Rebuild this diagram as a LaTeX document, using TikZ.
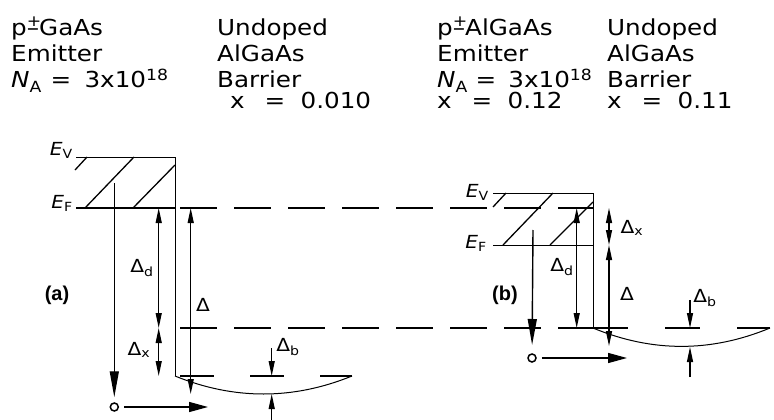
\documentclass[tikz,border=0pt]{standalone}
\usepackage{fontspec}
\setmainfont{DejaVu Sans}[FakeStretch=1.12]
\newfontfamily\tagfont{Liberation Sans}
\usetikzlibrary{arrows.meta}

\tikzset{
  edge/.style={line width=1pt},
  fermi/.style={line width=1.8pt},
  reflevel/.style={line width=1.6pt, dash pattern=on 37pt off 17pt},
  welllevel/.style={line width=1.6pt, dash pattern=on 35pt off 37pt},
  hatch/.style={line width=1.3pt},
  gap/.style={line width=1.2pt, {Triangle[length=15pt,width=6pt]}-{Triangle[length=15pt,width=6pt]}},
  tick/.style={line width=1.2pt, -{Triangle[length=15pt,width=6pt]}},
  drop/.style={line width=1.4pt, -{Triangle[length=26pt,width=9pt]}},
  drift/.style={line width=1.4pt, -{Triangle[length=19pt,width=10pt]}},
  hole/.style={draw, circle, line width=1.5pt, minimum size=8pt, inner sep=0pt},
  header/.style={anchor=base west, inner sep=0pt, font=\fontsize{22}{26}\selectfont},
  lab/.style={inner sep=0pt, font=\fontsize{18}{21}\selectfont},
  level/.style={anchor=base east, inner sep=0pt, font=\fontsize{18}{21}\selectfont},
  tag/.style={inner sep=0pt, font=\tagfont\bfseries\fontsize{20}{22}\selectfont},
}

\begin{document}
\begin{tikzpicture}[x=1pt,y=-1pt]
\useasboundingbox (0,0) rectangle (774,420);

% layer headings
\node[header] (aMat)  at (11,36)  {p\rlap{\raisebox{2pt}{\textsuperscript{+}}}–GaAs};
\node[header] (aEmit) at (11,62)  {Emitter};
\node[header] (aDop)  at (11,88)  {\textit{N}\textsubscript{A}\hspace{0.4em}=\hspace{0.6em}3x10\textsuperscript{18}};
\node[header] (aUnd)  at (217,36) {Undoped};
\node[header] (aAlg)  at (217,62) {AlGaAs};
\node[header] (aBar)  at (217,88) {Barrier};
\node[header] (aMol)  at (230,109) {x\hspace{0.9em}=\hspace{0.7em}0.010};

\node[header] (bMat)  at (437,36) {p\rlap{\raisebox{2pt}{\textsuperscript{+}}}–AlGaAs};
\node[header] (bEmit) at (437,62) {Emitter};
\node[header] (bDop)  at (437,88) {\textit{N}\textsubscript{A}\hspace{0.35em}=\hspace{0.55em}3x10\textsuperscript{18}};
\node[header] (bEmol) at (437,109) {x\hspace{0.9em}=\hspace{0.7em}0.12};
\node[header] (bUnd)  at (607,36) {Undoped};
\node[header] (bAlg)  at (607,62) {AlGaAs};
\node[header] (bBar)  at (607,88) {Barrier};
\node[header] (bMol)  at (607,109) {x\hspace{0.9em}=\hspace{0.7em}0.11};

% (a) GaAs emitter
\coordinate (aEvL) at (76,157);
\coordinate (aEvR) at (175,157);
\coordinate (aEfL) at (76,208);
\coordinate (aEfR) at (175,208);
\coordinate (aBot) at (175,376);
\coordinate (aWellR) at (352,376);
\draw[edge] (aEvL) -- (aEvR) -- (aBot);
\draw[fermi] (aEfL) -- (aEfR);
\draw[hatch] (75,170) -- (87,157) (85,208) -- (134,157) (133,208) -- (175,165);
\draw[edge] (aBot) .. controls (234,400) and (293,400) .. (aWellR);
\node[level] (aEv) at (73,155) {\textit{E}\textsubscript{V}};
\node[level] (aEf) at (73,208) {\textit{E}\textsubscript{F}};
\node[tag] (aTag) at (57,295) {(a)};

% reference levels
\draw[reflevel] (180,208) -- (593,208);
\draw[reflevel] (180,328) -- (593,328);
\draw[welllevel] (593,328) -- (770,328);
\draw[line width=1.6pt, dash pattern=on 34pt off 36pt] (180,376) -- (aWellR);

% (a) energy gaps
\coordinate (aD1) at (158.7,208);
\coordinate (aD2) at (158.7,328);
\coordinate (aD3) at (158.7,376);
\coordinate (aG1) at (190.7,208);
\coordinate (aG2) at (190.7,394);
\coordinate (aB1) at (271.7,348);
\coordinate (aB2) at (271.7,376);
\coordinate (aB3) at (271.7,420);
\coordinate (aB4) at (271.7,394);
\draw[gap] (aD1) -- (aD2);
\draw[gap] (aD2) -- (aD3);
\draw[gap] (aG1) -- (aG2);
\draw[tick] (aB1) -- (aB2);
\draw[tick] (aB3) -- (aB4);
\node[lab] (aDd) at (142,268) {Δ\textsubscript{d}};
\node[lab] (aDx) at (139,350) {Δ\textsubscript{x}};
\node[lab] (aDg) at (203,305) {Δ};
\node[lab] (aDb) at (288,347) {Δ\textsubscript{b}};

% (a) carrier path
\coordinate (aTop) at (114.3,183);
\node[hole] (aHole) at (114.3,407) {};
\coordinate (aEnd) at (208,407);
\draw[drop, shorten >=5pt] (aTop) -- (aHole);
\draw[drift, shorten <=5pt] (aHole) -- (aEnd);

% (b) AlGaAs emitter
\coordinate (bEvL) at (493,193);
\coordinate (bEvR) at (593,193);
\coordinate (bEfL) at (493,245);
\coordinate (bEfR) at (593,245);
\coordinate (bBot) at (593,328);
\coordinate (bWellR) at (770,328);
\draw[edge] (bEvL) -- (bEvR) -- (bBot);
\draw[edge] (bEfL) -- (bEfR);
\draw[hatch] (493,207) -- (506,193) (503,245) -- (553,193) (550,245) -- (593,202);
\draw[edge] (bBot) .. controls (652,352.5) and (711,352.5) .. (bWellR);
\node[level] (bEv) at (489,197) {\textit{E}\textsubscript{V}};
\node[level] (bEf) at (487,248) {\textit{E}\textsubscript{F}};
\node[tag] (bTag) at (505,295) {(b)};

% (b) energy gaps
\coordinate (bD1) at (576.7,208);
\coordinate (bD2) at (576.7,328);
\coordinate (bX1) at (609,208);
\coordinate (bX2) at (609,245);
\coordinate (bG2) at (609,346);
\coordinate (bB1) at (690,300);
\coordinate (bB2) at (690,328);
\coordinate (bB3) at (690,377);
\coordinate (bB4) at (690,347);
\draw[gap] (bD1) -- (bD2);
\draw[gap] (bX1) -- (bX2);
\draw[gap] (bX2) -- (bG2);
\draw[tick] (bB1) -- (bB2);
\draw[tick] (bB3) -- (bB4);
\node[lab] (bDd) at (562,267) {Δ\textsubscript{d}};
\node[lab] (bDx) at (632,228) {Δ\textsubscript{x}};
\node[lab] (bDg) at (627,294) {Δ};
\node[lab] (bDb) at (705,298) {Δ\textsubscript{b}};

% (b) carrier path
\coordinate (bTop) at (533,230);
\node[hole] (bHole) at (532,358) {};
\coordinate (bEnd) at (627,358);
\draw[drop, shorten >=13pt] (bTop) -- (bHole.center);
\draw[drift, shorten <=5pt] (bHole) -- (bEnd);
\end{tikzpicture}
\end{document}
